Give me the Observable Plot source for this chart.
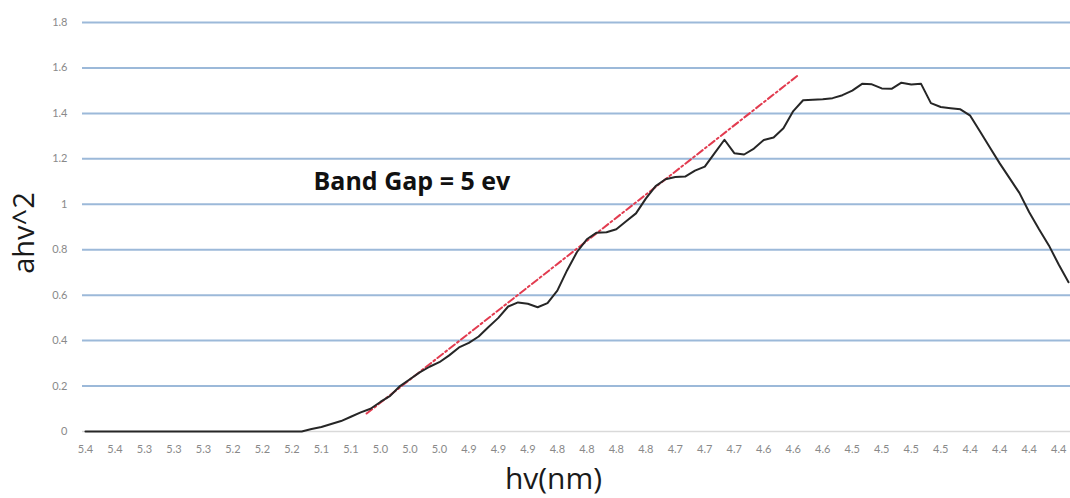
<!DOCTYPE html>
<html>
<head>
<meta charset="utf-8">
<script src="https://cdn.jsdelivr.net/npm/d3@7"></script>
<script src="https://cdn.jsdelivr.net/npm/@observablehq/plot@0.6"></script>
<style>
  html, body { margin: 0; padding: 0; background: #fff; }
  #chart { width: 1070px; height: 498px; }
</style>
</head>
<body>
<div id="chart"></div>
<script>
// Category tick labels (every 3rd data point)
const xLabels = ["5.4","5.4","5.3","5.3","5.3","5.2","5.2","5.2","5.1","5.1",
  "5.0","5.0","5.0","4.9","4.9","4.9","4.8","4.8","4.8","4.8",
  "4.7","4.7","4.7","4.6","4.6","4.6","4.5","4.5","4.5","4.5",
  "4.4","4.4","4.4","4.4"];

// ahv^2 series, one value per category point (101 points)
const ahv2 = [
  0,0,0,0,0,0,0,0,0,0,
  0,0,0,0,0,0,0,0,0,0,
  0,0,0,0.011,0.02,0.033,0.046,0.065,0.084,0.10,
  0.13,0.157,0.20,0.23,0.26,0.285,0.305,0.335,0.37,0.39,
  0.418,0.46,0.50,0.55,0.568,0.562,0.547,0.565,0.62,0.71,
  0.79,0.846,0.875,0.877,0.89,0.925,0.96,1.025,1.08,1.11,
  1.12,1.122,1.148,1.166,1.225,1.284,1.225,1.219,1.245,1.283,
  1.294,1.335,1.41,1.458,1.46,1.462,1.467,1.48,1.50,1.53,
  1.528,1.51,1.508,1.535,1.527,1.53,1.445,1.428,1.423,1.418,
  1.39,1.32,1.25,1.18,1.115,1.05,0.965,0.89,0.819,0.735,
  0.657
];

// Linear fit (band-gap extrapolation) end points
const fitX = [28.6, 72.5];
const fitY = [0.079, 1.568];

const yTicks = [0, 0.2, 0.4, 0.6, 0.8, 1, 1.2, 1.4, 1.6, 1.8];

const series = ahv2.map((v, i) => ({i, v}));
const fit = fitX.map((x, k) => ({x, y: fitY[k]}));
const xTickIdx = xLabels.map((_, k) => k * 3);

const chart = Plot.plot({
  width: 1070,
  height: 498,
  marginTop: 22,
  marginBottom: 67,
  marginLeft: 82,
  marginRight: 0,
  style: {fontFamily: "Lato, 'Open Sans', sans-serif", background: "#fff"},
  x: {domain: [-0.3, 100.2]},
  y: {domain: [0, 1.8]},
  marks: [
    Plot.ruleY(yTicks.filter(d => d > 0), {stroke: "#9cb9d9", strokeWidth: 2}),
    Plot.ruleY([0], {stroke: "#d9d9d9", strokeWidth: 1.5}),
    Plot.line(fit, {x: "x", y: "y", stroke: "#e23b4f", strokeWidth: 2, strokeDasharray: "7,3,2,3"}),
    Plot.line(series, {x: "i", y: "v", stroke: "#262626", strokeWidth: 2}),
    Plot.axisY({ticks: yTicks, tickSize: 0, tickPadding: 15, tickFormat: d3.format("~g"),
      fill: "#898989", fontSize: 11, label: null}),
    Plot.axisX({ticks: xTickIdx, tickSize: 0, tickPadding: 14, tickFormat: i => xLabels[Math.round(i / 3)],
      fill: "#898989", fontSize: 11, label: null}),
    Plot.text(["ahv^2"], {text: d => d, frameAnchor: "left", textAnchor: "middle", lineAnchor: "middle",
      dx: -58, dy: 6, rotate: -90,
      fontSize: 29, fill: "#1a1a1a", fontFamily: "'Open Sans', sans-serif"}),
    Plot.text(["hv(nm)"], {text: d => d, frameAnchor: "bottom", textAnchor: "middle", lineAnchor: "middle",
      dx: -23, dy: 48,
      fontSize: 30, fill: "#1a1a1a", fontFamily: "'Open Sans', sans-serif"}),
    Plot.text(["Band Gap = 5 ev"], {text: d => d, frameAnchor: "top-left", textAnchor: "start", lineAnchor: "middle",
      dx: 231, dy: 159, fontSize: 25, fontWeight: "bold", fill: "#111", fontFamily: "'Open Sans', sans-serif"})
  ]
});
document.getElementById("chart").appendChild(chart);
</script>
</body>
</html>
